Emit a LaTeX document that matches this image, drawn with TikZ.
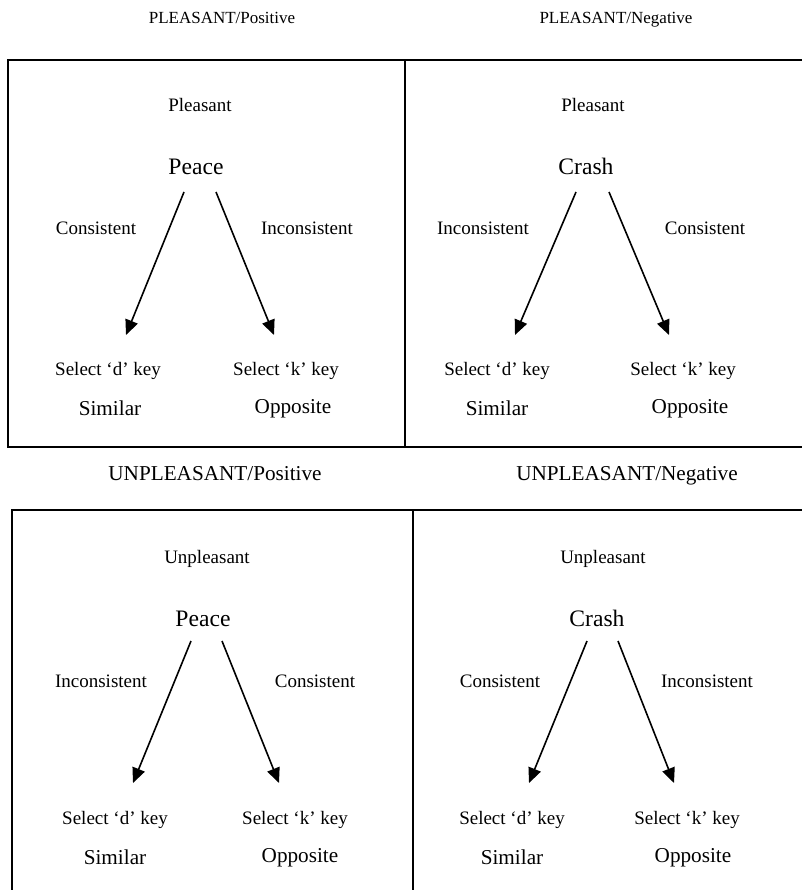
\documentclass[tikz,border=0pt]{standalone}
\usepackage{fontspec}
\setmainfont{Liberation Serif}
\usetikzlibrary{arrows.meta}
\begin{document}
\begin{tikzpicture}[x=1pt,y=-1pt,
  txt/.style={inner sep=0pt,yshift=-2.5pt},
  lbl/.style={txt,text height=13pt,text depth=4pt,font=\fontsize{19}{22}\selectfont},
  big/.style={txt,text height=14.5pt,text depth=4.5pt,font=\fontsize{21.2}{25}\selectfont},
  head/.style={txt,text height=11.5pt,text depth=3.5pt,font=\fontsize{17}{20}\selectfont},
  word/.style={txt,text height=16pt,text depth=5pt,font=\fontsize{23.6}{28}\selectfont},
  frame/.style={line width=2pt},
  arr/.style={line width=1.6pt,-{Triangle[length=15pt,width=13pt]}}]
\useasboundingbox[fill=white] (0,0) rectangle (801,890);
% frames
\draw[frame] (812,60) -- (8,60) -- (8,447) -- (812,447);
\draw[frame] (405,60) -- (405,447);
\draw[frame] (812,510) -- (12,510) -- (12,900);
\draw[frame] (413,510) -- (413,900);
% headers
\node[head] (h1) at (222,17) {PLEASANT/Positive};
\node[head] (h2) at (616,17) {PLEASANT/Negative};
\node[big] (h3) at (215,473) {UNPLEASANT/Positive};
\node[big] (h4) at (627,473) {UNPLEASANT/Negative};
% panel 1
\node[lbl] (p1v) at (200,105) {Pleasant};
\node[word] (p1w) at (196,167) {Peace};
\node[lbl] (p1l) at (96,228) {Consistent};
\node[lbl] (p1r) at (307,228) {Inconsistent};
\node[lbl] (p1d) at (108,368) {Select ‘d’ key};
\node[lbl] (p1k) at (286,368) {Select ‘k’ key};
\node[big] (p1s) at (110,408) {Similar};
\node[big] (p1o) at (293,406) {Opposite};
\coordinate (p1a) at (184,192); \coordinate (p1b) at (216,192);
\coordinate (p1c) at (126,335); \coordinate (p1e) at (274,335);
\draw[arr] (p1a) -- (p1c);
\draw[arr] (p1b) -- (p1e);
% panel 2
\node[lbl] (p2v) at (593,105) {Pleasant};
\node[word] (p2w) at (586,167) {Crash};
\node[lbl] (p2l) at (483,228) {Inconsistent};
\node[lbl] (p2r) at (705,228) {Consistent};
\node[lbl] (p2d) at (497,368) {Select ‘d’ key};
\node[lbl] (p2k) at (683,368) {Select ‘k’ key};
\node[big] (p2s) at (497,408) {Similar};
\node[big] (p2o) at (690,406) {Opposite};
\coordinate (p2a) at (576,192); \coordinate (p2b) at (609,192);
\coordinate (p2c) at (515,335); \coordinate (p2e) at (669,335);
\draw[arr] (p2a) -- (p2c);
\draw[arr] (p2b) -- (p2e);
% panel 3
\node[lbl] (p3v) at (207,556) {Unpleasant};
\node[word] (p3w) at (203,618) {Peace};
\node[lbl] (p3l) at (101,680) {Inconsistent};
\node[lbl] (p3r) at (315,680) {Consistent};
\node[lbl] (p3d) at (115,817) {Select ‘d’ key};
\node[lbl] (p3k) at (295,817) {Select ‘k’ key};
\node[big] (p3s) at (115,857) {Similar};
\node[big] (p3o) at (300,855) {Opposite};
\coordinate (p3a) at (191,641); \coordinate (p3b) at (222,641);
\coordinate (p3c) at (133,783); \coordinate (p3e) at (279,783);
\draw[arr] (p3a) -- (p3c);
\draw[arr] (p3b) -- (p3e);
% panel 4
\node[lbl] (p4v) at (603,556) {Unpleasant};
\node[word] (p4w) at (597,618) {Crash};
\node[lbl] (p4l) at (500,680) {Consistent};
\node[lbl] (p4r) at (707,680) {Inconsistent};
\node[lbl] (p4d) at (512,817) {Select ‘d’ key};
\node[lbl] (p4k) at (687,817) {Select ‘k’ key};
\node[big] (p4s) at (512,857) {Similar};
\node[big] (p4o) at (693,855) {Opposite};
\coordinate (p4a) at (587,641); \coordinate (p4b) at (618,641);
\coordinate (p4c) at (529,783); \coordinate (p4e) at (674,783);
\draw[arr] (p4a) -- (p4c);
\draw[arr] (p4b) -- (p4e);
\end{tikzpicture}
\end{document}
